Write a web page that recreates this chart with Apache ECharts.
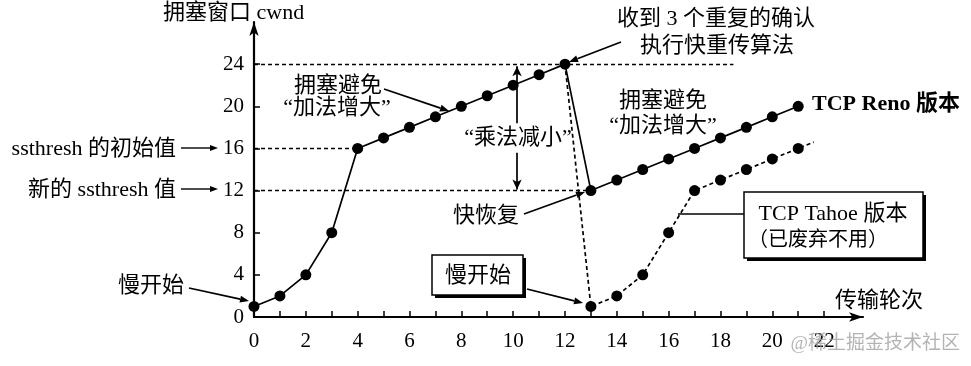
<!DOCTYPE html>
<html><head><meta charset="utf-8">
<script src="https://cdn.jsdelivr.net/npm/echarts@6/dist/echarts.min.js"></script>
<style>html,body{margin:0;padding:0;background:#fff}#c{width:971px;height:366px}</style>
</head><body><div id="c"></div>
<script>
// ---- data ----
const rounds = [0,1,2,3,4,5,6,7,8,9,10,11,12,13,14,15,16,17,18,19,20,21];
const renoCwnd = [1,2,4,8,16,17,18,19,20,21,22,23,24,12,13,14,15,16,17,18,19,20];
const tahoeRounds = [12,13,14,15,16,17,18,19,20,21,21.6];
const tahoeCwnd = [24,1,2,4,8,12,13,14,15,16,16.6];
const xTickValues = [0,1,2,3,4,5,6,7,8,9,10,11,12,13,14,15,16,17,18,19,20,21,22];
const xTickLabels = [0,2,4,6,8,10,12,14,16,18,20,22];
const yTickValues = [4,8,12,16,20,24];
const yTickLabels = [0,4,8,12,16,20,24];
const ssthreshInit = 16, ssthreshNew = 12, peakCwnd = 24;
const peakRound = 12, slowStartEnd = 4, lossRound = 13, peakLineEnd = 18.5;
const mdRound = 10.15;

const FONT = "'Liberation Serif','Noto Sans CJK SC',serif";
const chart = echarts.init(document.getElementById('c'), null, {renderer:'canvas'});

function arrow(x1,y1,x2,y2,head,w,lw){
  head = head||9; w = w||3.5; lw = lw||1.7;
  const a = Math.atan2(y2-y1,x2-x1);
  const bx = x2-head*Math.cos(a), by = y2-head*Math.sin(a);
  const px = -Math.sin(a)*w, py = Math.cos(a)*w;
  return [
    {type:'line',shape:{x1:x1,y1:y1,x2:bx,y2:by},style:{stroke:'#000',lineWidth:lw},z:10},
    {type:'polygon',shape:{points:[[x2,y2],[bx+px,by+py],[bx-px,by-py]]},style:{fill:'#000'},z:10}
  ];
}
function txt(t,x,y,align,size,weight,color){
  return {type:'text',z:10,style:{text:t,x:x,y:y,textAlign:align||'left',textVerticalAlign:'middle',
    fontFamily:FONT,fontSize:size||22,fontWeight:weight||'normal',fill:color||'#000'}};
}
function box(x,y,w,h){
  return [
    {type:'rect',z:8,shape:{x:x+3,y:y+3,width:w,height:h},style:{fill:'#000'}},
    {type:'rect',z:9,shape:{x:x,y:y,width:w,height:h},style:{fill:'#fff',stroke:'#000',lineWidth:1.5}}
  ];
}

const tahoeData = tahoeRounds.map((r,i)=>{
  const it = {value:[r,tahoeCwnd[i]]};
  if (i===0 || i===tahoeRounds.length-1) it.symbol='none';
  return it;
});

const graphics = [].concat(
  [txt('拥塞窗口 cwnd',163,13,'left',22)],
  [txt('ssthresh 的初始值',176,149,'right',22)], arrow(181,148,218,148,8,3,1.4),
  [txt('新的 ssthresh 值',176,190,'right',22)], arrow(181,189,218,189,8,3,1.4),
  [txt('慢开始',184,286,'right',22)], arrow(189,288,249,301),
  [txt('拥塞避免',338,86,'center',22), txt('“加法增大”',337,108,'center',22)], arrow(384,89,449,111),
  [txt('“乘法减小”',518,138,'center',22)],
  [txt('收到 3 个重复的确认',716,19,'center',22), txt('执行快重传算法',717,46,'center',22)], arrow(621,42,569,62),
  [txt('拥塞避免',663,101,'center',22), txt('“加法增大”',663,126,'center',22)],
  [txt('TCP Reno 版本',812,104,'left',22,'bold')],
  [txt('快恢复',453,216,'left',22)], arrow(524,214,585,192),
  box(432,255,91,40), [txt('慢开始',478,276,'center',22)], arrow(527,289,583,303),
  [{type:'line',z:9,shape:{x1:678,y1:214,x2:744,y2:214},style:{stroke:'#000',lineWidth:1.4}}],
  box(744,192,179,66),
  [txt('TCP Tahoe 版本',833,214,'center',22), txt('（已废弃不用）',748,241,'left',20)],
  [txt('传输轮次',835,301,'left',22)],
  [txt('@稀土掘金技术社区',960,344,'right',19,'normal','rgba(160,160,160,0.8)')]
);

chart.setOption({
  animation:false,
  backgroundColor:'#fff',
  grid:{left:254,right:108,top:22,bottom:49},
  xAxis:{type:'value',min:0,max:23.5,splitLine:{show:false},
    axisLine:{lineStyle:{color:'#000',width:2.2},symbol:['none','arrow'],symbolSize:[7,14]},
    axisTick:{inside:true,length:6,customValues:xTickValues,lineStyle:{color:'#000',width:1.5}},
    axisLabel:{customValues:xTickLabels,color:'#000',fontFamily:FONT,fontSize:21,margin:14}},
  yAxis:{type:'value',min:0,max:28,splitLine:{show:false},
    axisLine:{onZero:false,lineStyle:{color:'#000',width:2.2},symbol:['none','arrow'],symbolSize:[7,14]},
    axisTick:{inside:true,length:6,customValues:yTickValues,lineStyle:{color:'#000',width:1.5}},
    axisLabel:{customValues:yTickLabels,color:'#000',fontFamily:FONT,fontSize:21,margin:10}},
  series:[
    {type:'line',name:'TCP Reno',data:rounds.map((r,i)=>[r,renoCwnd[i]]),
      symbol:'circle',symbolSize:11,itemStyle:{color:'#000'},lineStyle:{color:'#000',width:1.7},
      markLine:{silent:true,symbol:'none',label:{show:false},lineStyle:{color:'#000',type:[4,3],width:1.3},
        data:[
          [{coord:[0,peakCwnd]},{coord:[peakLineEnd,peakCwnd]}],
          [{coord:[0,ssthreshInit]},{coord:[slowStartEnd,ssthreshInit]}],
          [{coord:[0,ssthreshNew]},{coord:[lossRound,ssthreshNew]}]
        ]}},
    {type:'line',name:'TCP Tahoe',data:tahoeData,
      symbol:'circle',symbolSize:11,itemStyle:{color:'#000'},lineStyle:{color:'#000',width:1.7,type:[4,3]},
      markLine:{silent:true,symbol:['none','arrow'],symbolSize:[7,10],label:{show:false},lineStyle:{color:'#000',type:'solid',width:1.7},
        data:[
          [{coord:[mdRound,18.4]},{coord:[mdRound,peakCwnd-0.2]}],
          [{coord:[mdRound,15.6]},{coord:[mdRound,ssthreshNew+0.1]}]
        ]}}
  ],
  graphic:graphics
});
</script></body></html>
